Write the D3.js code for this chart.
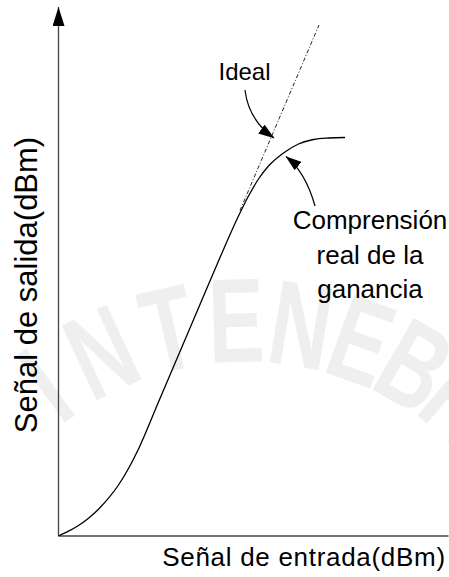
<!DOCTYPE html>
<html>
<head>
<meta charset="utf-8">
<script src="https://cdn.jsdelivr.net/npm/d3@7"></script>
<style>
  body { margin: 0; background: #fff; }
  svg text { font-family: "Liberation Sans", Arial, sans-serif; fill: #000; }
</style>
</head>
<body>
<div id="chart"></div>
<script>
//DATA (arbitrary dBm units)
var realIn = [0, 1, 2, 3, 4, 5, 6, 7, 8, 10, 12, 14, 16, 18, 19, 20, 21, 22.5, 24, 25.5, 27, 28.65];
var realOut = [0, 0.48, 1.05, 1.78, 2.68, 3.78, 5.1, 6.75, 8.7, 13.4, 18.1, 22.8, 27.5, 32.0, 34.0, 35.7, 37.0, 38.3, 39.2, 39.65, 39.8, 39.85];
var idealIn = [18.15, 26.05];
var idealOut = [32.55, 51.1];
var xLabel = 'Señal de entrada(dBm)';
var yLabel = 'Señal de salida(dBm)';
var noteIdeal = ['Ideal'];
var noteReal = ['Comprensión', 'real de la', 'ganancia'];
var sealLetters = ['I', 'N', 'T', 'E', 'N', 'E', 'B', 'R', 'I'];
var sealAngles = [-36, -25, -13, -1.5, 9.5, 20, 30, 40, 48];

//CONSTANTS
var width = 449, height = 577;
var xMax = 39, yMax = 52.9;

var x = d3.scaleLinear().domain([0, xMax]).range([58.5, 448.5]);
var y = d3.scaleLinear().domain([0, yMax]).range([536, 7]);

var svg = d3.select('#chart').append('svg')
  .attr('width', width)
  .attr('height', height);

var defs = svg.append('defs');
defs.append('marker')
  .attr('id', 'head')
  .attr('viewBox', '0 0 16 11')
  .attr('refX', 15.5).attr('refY', 5.5)
  .attr('markerWidth', 16).attr('markerHeight', 11)
  .attr('markerUnits', 'userSpaceOnUse')
  .attr('orient', 'auto')
  .append('path').attr('d', 'M0,0L16,5.5L0,11Z').attr('fill', '#000');
defs.append('marker')
  .attr('id', 'axisHead')
  .attr('viewBox', '0 0 19 12')
  .attr('refX', 19).attr('refY', 6)
  .attr('markerWidth', 19).attr('markerHeight', 12)
  .attr('markerUnits', 'userSpaceOnUse')
  .attr('orient', 'auto')
  .append('path').attr('d', 'M0,0L19,6L0,12Z').attr('fill', '#000');

// faint seal lettering in the background
var sealX = 245, sealY = 660, sealR = 298;
svg.append('g').attr('class', 'watermark')
  .selectAll('text')
  .data(sealLetters)
  .enter().append('text')
  .attr('transform', function(d, i) {
    return 'translate(' + sealX + ',' + sealY + ') rotate(' + sealAngles[i] + ') translate(0,' + (-sealR) + ') scale(0.7,1)';
  })
  .attr('text-anchor', 'middle')
  .style('font-size', '120px')
  .style('font-weight', 'bold')
  .style('fill', '#efefef')
  .text(function(d){ return d; });

// axes
svg.append('line')
  .attr('x1', x(0)).attr('y1', y(0))
  .attr('x2', x(0)).attr('y2', y(yMax))
  .attr('stroke', '#444').attr('stroke-width', 1.3)
  .attr('marker-end', 'url(#axisHead)');
svg.append('line')
  .attr('x1', x(0)).attr('y1', y(0))
  .attr('x2', x(xMax)).attr('y2', y(0))
  .attr('stroke', '#444').attr('stroke-width', 1.3);

// ideal (dash-dot) line
var idealPts = d3.zip(idealIn, idealOut);
svg.append('path')
  .attr('d', d3.line().x(function(d){ return x(d[0]); }).y(function(d){ return y(d[1]); })(idealPts))
  .attr('fill', 'none')
  .attr('stroke', '#222')
  .attr('stroke-width', 1)
  .attr('stroke-dasharray', '4,2,1,2');

// real gain curve
var realPts = d3.zip(realIn, realOut);
svg.append('path')
  .attr('d', d3.line().curve(d3.curveMonotoneX)
    .x(function(d){ return x(d[0]); }).y(function(d){ return y(d[1]); })(realPts))
  .attr('fill', 'none')
  .attr('stroke', '#000')
  .attr('stroke-width', 1.3);

// annotation arrows, start / control / tip in data units
function arrow(p0, c, p1) {
  var p = d3.path();
  p.moveTo(x(p0[0]), y(p0[1]));
  p.quadraticCurveTo(x(c[0]), y(c[1]), x(p1[0]), y(p1[1]));
  svg.append('path')
    .attr('d', p.toString())
    .attr('fill', 'none')
    .attr('stroke', '#000')
    .attr('stroke-width', 1.2)
    .attr('marker-end', 'url(#head)');
}
arrow([18.65, 44.6], [19.0, 41.6], [21.55, 39.8]);
arrow([25.65, 33.0], [24.7, 36.4], [22.75, 37.95]);

// labels
svg.append('text')
  .attr('x', x(16.0)).attr('y', y(45.6))
  .style('font-size', '24px')
  .text(noteIdeal[0]);

svg.selectAll('text.note')
  .data(noteReal)
  .enter().append('text')
  .attr('class', 'note')
  .attr('x', x(31.15))
  .attr('y', function(d, i){ return y(30.7) + i * 34.5; })
  .attr('text-anchor', 'middle')
  .style('font-size', '26px')
  .text(function(d){ return d; });

svg.append('text')
  .attr('x', 304).attr('y', 566)
  .attr('text-anchor', 'middle')
  .style('font-size', '26px')
  .style('letter-spacing', '0.7px')
  .text(xLabel);

svg.append('text')
  .attr('transform', 'translate(37,285) rotate(-90)')
  .attr('text-anchor', 'middle')
  .style('font-size', '31px')
  .text(yLabel);
</script>
</body>
</html>
